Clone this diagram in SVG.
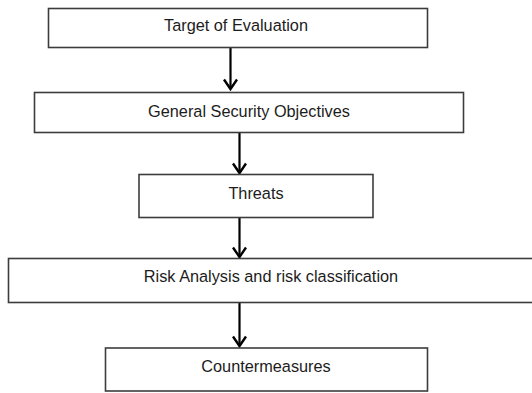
<svg xmlns="http://www.w3.org/2000/svg" width="532" height="393" viewBox="0 0 532 393">
<style>
.box{fill:#fff;stroke:#3c3c3c;stroke-width:1.6}
.lbl{font-family:"Liberation Sans",Arial,sans-serif;font-size:16.3px;fill:#1c1c1c;text-anchor:middle}
.arr{stroke:#000;stroke-width:2.2;fill:none;marker-end:url(#ah)}
</style>
<defs>
<marker id="ah" markerUnits="userSpaceOnUse" markerWidth="20" markerHeight="20" refX="12" refY="8" orient="auto" overflow="visible">
<path d="M2.5,1.5 L12,8 L2.5,14.5" fill="none" stroke="#000" stroke-width="2.4"/>
</marker>
</defs>
<rect width="532" height="393" fill="#fff"/>
<g id="connectors">
<line class="arr" x1="230.5" y1="48" x2="230.5" y2="89"/>
<line class="arr" x1="239.5" y1="133" x2="239.5" y2="173"/>
<line class="arr" x1="239.5" y1="218" x2="239.5" y2="257"/>
<line class="arr" x1="239.5" y1="303" x2="239.5" y2="346"/>
</g>
<g id="n1"><rect class="box" x="48.5" y="8.5" width="379" height="39"/><text class="lbl" x="236" y="31">Target of Evaluation</text></g>
<g id="n2"><rect class="box" x="34.5" y="92.5" width="429" height="40"/><text class="lbl" x="249" y="116.5">General Security Objectives</text></g>
<g id="n3"><rect class="box" x="139" y="174.5" width="234" height="43"/><text class="lbl" x="256" y="198.5">Threats</text></g>
<g id="n4"><rect class="box" x="8.5" y="258.5" width="540" height="44"/><text class="lbl" x="271" y="282">Risk Analysis and risk classification</text></g>
<g id="n5"><rect class="box" x="105.5" y="348" width="322" height="43"/><text class="lbl" x="266" y="371.5">Countermeasures</text></g>
</svg>
